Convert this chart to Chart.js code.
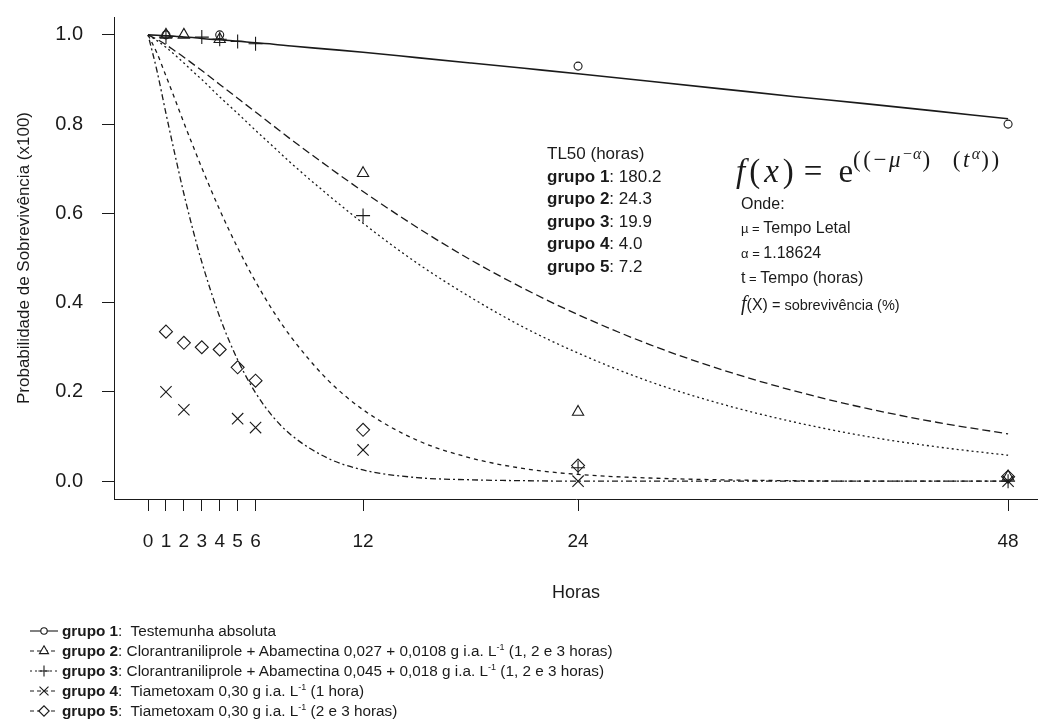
<!DOCTYPE html>
<html>
<head>
<meta charset="utf-8">
<script src="https://cdn.jsdelivr.net/npm/chart.js@4.4.0/dist/chart.umd.min.js"></script>
<style>
    body { margin: 0; background: #fff; }
    #wrap { position: relative; width: 1038px; height: 724px; font-family: "Liberation Sans", Arial, sans-serif; color: #1a1a1a; }
    #chart { position: absolute; left: 0; top: 0; }
    .txt { position: absolute; white-space: nowrap; }
    sup { line-height: 0; }
    .tl50 { left: 547px; top: 143px; font-size: 17px; line-height: 22.6px; }
    .formula { left: 736px; top: 132px; font-family: "Liberation Serif", serif; font-size: 33px; line-height: 44px; }
    .formula .fx { letter-spacing: 4px; }
    .formula .eq { margin: 0 16px 0 6px; }
    .formula .ex { font-size: 23px; vertical-align: 15px; letter-spacing: 2.5px; word-spacing: 12px; }
    .formula .ex2 { font-size: 16px; vertical-align: 8px; letter-spacing: 1px; }
    .onde { left: 741px; top: 192px; font-size: 16px; line-height: 24px; }
    .small { font-size: 13px; }
    .small2 { font-size: 14.5px; }
    .legend { left: 62px; top: 621px; font-size: 15.3px; line-height: 20px; }
    .legend sup { font-size: 9px; vertical-align: 6px; }
</style>
</head>
<body>
<div id="wrap">
    <canvas id="chart" width="1038" height="724"></canvas>

    <div class="txt tl50">
        TL50 (horas)<br>
        <b>grupo 1</b>: 180.2<br>
        <b>grupo 2</b>: 24.3<br>
        <b>grupo 3</b>: 19.9<br>
        <b>grupo 4</b>: 4.0<br>
        <b>grupo 5</b>: 7.2
    </div>

    <div class="txt formula"><span class="fx"><i>f</i>(<i>x</i>)</span><span class="eq">=</span>e<span class="ex">((−<i>μ</i><span class="ex2">−<i>α</i></span>) (<i>t</i><span class="ex2"><i>α</i></span>))</span></div>

    <div class="txt onde">
        Onde:<br>
        <span class="small">µ = </span>Tempo Letal<br>
        <span class="small">α = </span>1.18624<br>
        t<span class="small"> = </span>Tempo (horas)<br>
        <i style="font-family:'Liberation Serif',serif;font-size:20px">f</i>(X)<span class="small2"> = sobrevivência (%)</span>
    </div>

    <div class="txt legend">
        <b>grupo 1</b>:&nbsp; Testemunha absoluta<br>
        <b>grupo 2</b>: Clorantraniliprole + Abamectina 0,027 + 0,0108 g i.a. L<sup>-1</sup> (1, 2 e 3 horas)<br>
        <b>grupo 3</b>: Clorantraniliprole + Abamectina 0,045 + 0,018 g i.a. L<sup>-1</sup> (1, 2 e 3 horas)<br>
        <b>grupo 4</b>:&nbsp; Tiametoxam 0,30 g i.a. L<sup>-1</sup> (1 hora)<br>
        <b>grupo 5</b>:&nbsp; Tiametoxam 0,30 g i.a. L<sup>-1</sup> (2 e 3 horas)
    </div>
</div>

<script>
// tick labels
const xTicks = [0, 1, 2, 3, 4, 5, 6, 12, 24, 48];
const yTicks = [0, 0.2, 0.4, 0.6, 0.8, 1.0];

// fitted curves (hours -> survival)
const curveHours = [0, 0.5, 1, 1.5, 2, 2.5, 3, 4, 5, 6, 7, 8, 10, 12, 15, 18, 21, 24, 28, 32, 36, 40, 44, 48];
const curveGrupo1 = [1, 0.999, 0.998, 0.997, 0.995, 0.994, 0.992, 0.989, 0.986, 0.982, 0.979, 0.975, 0.968, 0.961, 0.949, 0.937, 0.925, 0.913, 0.896, 0.879, 0.862, 0.846, 0.829, 0.812];
const curveGrupo2 = [1, 0.990, 0.978, 0.964, 0.950, 0.935, 0.920, 0.889, 0.858, 0.827, 0.796, 0.765, 0.706, 0.649, 0.569, 0.496, 0.431, 0.373, 0.306, 0.250, 0.203, 0.164, 0.132, 0.106];
const curveGrupo3 = [1, 0.987, 0.972, 0.955, 0.937, 0.918, 0.900, 0.861, 0.824, 0.786, 0.749, 0.712, 0.643, 0.578, 0.489, 0.412, 0.344, 0.287, 0.223, 0.173, 0.133, 0.101, 0.077, 0.058];
const curveGrupo4 = [1, 0.919, 0.824, 0.732, 0.644, 0.564, 0.491, 0.368, 0.272, 0.198, 0.143, 0.103, 0.052, 0.025, 0.008, 0.003, 0.001, 0, 0, 0, 0, 0, 0, 0];
const curveGrupo5 = [1, 0.959, 0.908, 0.856, 0.803, 0.752, 0.702, 0.608, 0.523, 0.447, 0.380, 0.322, 0.228, 0.160, 0.092, 0.052, 0.028, 0.015, 0.007, 0.003, 0.001, 0, 0, 0];

// observed points
const obsHours1 = [1, 4, 24, 48];
const obsGrupo1 = [1.0, 1.0, 0.93, 0.80];
const obsHours2 = [1, 2, 4, 12, 24, 48];
const obsGrupo2 = [1.0, 1.0, 0.99, 0.69, 0.155, 0.01];
const obsHours3 = [1, 3, 4, 5, 6, 12, 24, 48];
const obsGrupo3 = [0.995, 0.995, 0.99, 0.985, 0.98, 0.595, 0.03, 0.0];
const obsHours4 = [1, 2, 5, 6, 12, 24, 48];
const obsGrupo4 = [0.20, 0.16, 0.14, 0.12, 0.07, 0.0, 0.0];
const obsHours5 = [1, 2, 3, 4, 5, 6, 12, 24, 48];
const obsGrupo5 = [0.335, 0.31, 0.30, 0.295, 0.255, 0.225, 0.115, 0.035, 0.01];

const ink = "#1a1a1a";

function pairs(xs, ys) {
    return xs.map((x, i) => ({ x: x, y: ys[i] }));
}

function curve(ys, dash, width) {
    return {
        type: "line",
        data: pairs(curveHours, ys),
        borderColor: ink,
        borderWidth: width,
        borderDash: dash,
        pointRadius: 0,
        fill: false,
        cubicInterpolationMode: "monotone"
    };
}

function observed(xs, ys, style, radius) {
    return {
        type: "scatter",
        data: pairs(xs, ys),
        showLine: false,
        pointStyle: style,
        pointRadius: radius,
        pointBorderColor: ink,
        pointBackgroundColor: "rgba(0,0,0,0)",
        pointBorderWidth: 1.1
    };
}

const groupStyles = [
    { dash: [], legendDash: [], marker: "circle", r: 4, w: 1.6 },
    { dash: [8, 4], legendDash: [4, 3], marker: "triangle", r: 6.5, w: 1.3 },
    { dash: [2, 3], legendDash: [2, 3], marker: "cross", r: 7, w: 1.3 },
    { dash: [2, 3, 6, 3], legendDash: [4, 3], marker: "crossRot", r: 8, w: 1.3 },
    { dash: [4, 4], legendDash: [4, 3], marker: "rectRot", r: 6.5, w: 1.3 }
];

// small line+marker samples in front of each legend row
const legendSymbols = {
    id: "legendSymbols",
    afterDraw(chart) {
        const ctx = chart.ctx;
        groupStyles.forEach((g, i) => {
            const y = 631 + i * 20;
            ctx.save();
            ctx.strokeStyle = ink;
            ctx.lineWidth = 1.1;
            ctx.setLineDash(g.legendDash);
            ctx.beginPath();
            ctx.moveTo(30, y);
            ctx.lineTo(58, y);
            ctx.stroke();
            ctx.setLineDash([]);
            ctx.fillStyle = "#fff";
            const x = 44, r = g.r * 0.8;
            ctx.beginPath();
            if (g.marker === "circle") {
                ctx.arc(x, y, r, 0, Math.PI * 2);
                ctx.fill();
                ctx.stroke();
            } else if (g.marker === "triangle") {
                ctx.moveTo(x, y - r);
                ctx.lineTo(x + r * 0.87, y + r * 0.5);
                ctx.lineTo(x - r * 0.87, y + r * 0.5);
                ctx.closePath();
                ctx.fill();
                ctx.stroke();
            } else if (g.marker === "cross") {
                ctx.moveTo(x, y - r); ctx.lineTo(x, y + r);
                ctx.moveTo(x - r, y); ctx.lineTo(x + r, y);
                ctx.stroke();
            } else if (g.marker === "crossRot") {
                const d = r * 0.7;
                ctx.moveTo(x - d, y - d); ctx.lineTo(x + d, y + d);
                ctx.moveTo(x - d, y + d); ctx.lineTo(x + d, y - d);
                ctx.stroke();
            } else {
                ctx.moveTo(x - r, y); ctx.lineTo(x, y - r);
                ctx.lineTo(x + r, y); ctx.lineTo(x, y + r);
                ctx.closePath();
                ctx.fill();
                ctx.stroke();
            }
            ctx.restore();
        });
    }
};

const curves = [curveGrupo1, curveGrupo2, curveGrupo3, curveGrupo4, curveGrupo5];
const obs = [
    [obsHours1, obsGrupo1], [obsHours2, obsGrupo2], [obsHours3, obsGrupo3],
    [obsHours4, obsGrupo4], [obsHours5, obsGrupo5]
];

const datasets = [];
obs.forEach((o, i) => datasets.push(observed(o[0], o[1], groupStyles[i].marker, groupStyles[i].r)));
curves.forEach((c, i) => datasets.push(curve(c, groupStyles[i].dash, groupStyles[i].w)));

new Chart(document.getElementById("chart"), {
    type: "scatter",
    data: { datasets: datasets },
    plugins: [legendSymbols],
    options: {
        responsive: false,
        animation: false,
        layout: { autoPadding: false, padding: { top: 17, right: 0, left: 0, bottom: 0 } },
        plugins: { legend: { display: false }, tooltip: { enabled: false } },
        scales: {
            x: {
                type: "linear",
                min: -1.9,
                max: 49.67,
                afterBuildTicks: s => { s.ticks = xTicks.map(v => ({ value: v })); },
                afterFit: s => { s.height = 225; s.paddingLeft = 0; s.paddingRight = 0; },
                ticks: {
                    autoSkip: false,
                    maxRotation: 0,
                    padding: 19,
                    color: ink,
                    font: { family: "Liberation Sans", size: 19 },
                    callback: v => String(v)
                },
                grid: { drawOnChartArea: false, drawTicks: true, tickLength: 12, color: ink, lineWidth: 1 },
                border: { display: true, color: ink, width: 1 },
                title: {
                    display: true,
                    text: "Horas",
                    color: ink,
                    font: { family: "Liberation Sans", size: 18 },
                    padding: { top: 0, bottom: 120 }
                }
            },
            y: {
                type: "linear",
                min: -0.04,
                max: 1.04,
                afterBuildTicks: s => { s.ticks = yTicks.map(v => ({ value: v })); },
                afterFit: s => { s.width = 114; s.paddingTop = 0; s.paddingBottom = 0; },
                ticks: {
                    padding: 19,
                    color: ink,
                    font: { family: "Liberation Sans", size: 20 },
                    callback: v => v.toFixed(1)
                },
                grid: { drawOnChartArea: false, drawTicks: true, tickLength: 12, color: ink, lineWidth: 1 },
                border: { display: true, color: ink, width: 1 },
                title: {
                    display: true,
                    text: "Probabilidade de Sobrevivência (x100)",
                    color: ink,
                    font: { family: "Liberation Sans", size: 17 },
                    padding: { top: 14, bottom: 0 }
                }
            }
        }
    }
});
</script>
</body>
</html>
